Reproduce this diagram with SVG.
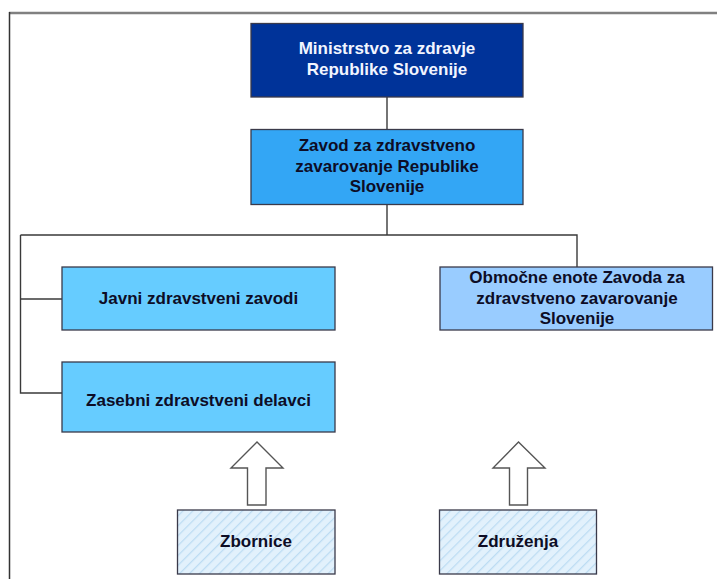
<svg xmlns="http://www.w3.org/2000/svg" width="717" height="579" viewBox="0 0 717 579">
<defs>
<pattern id="hatch" width="7" height="7" patternUnits="userSpaceOnUse" patternTransform="rotate(45)">
<rect width="7" height="7" fill="#E2F1FC"/>
<line x1="0" y1="0" x2="0" y2="7" stroke="#BCDCF3" stroke-width="2.5"/>
</pattern>
</defs>
<style>
text{font-family:"Liberation Sans",Arial,sans-serif;font-weight:bold;font-size:17px;text-anchor:middle;fill:#0d0d26}
.box{stroke:#3a3a4a;stroke-width:1.3}
.conn{fill:none;stroke:#3a3a3a;stroke-width:1.4}
.arrow{fill:#fff;stroke:#555;stroke-width:1.4}
</style>
<rect width="717" height="579" fill="#fff"/>
<g id="frame">
<line x1="9" y1="13" x2="717" y2="13" stroke="#808080" stroke-width="2.5"/>
<line x1="9.5" y1="12" x2="9.5" y2="579" stroke="#333" stroke-width="1.5"/>
</g>
<g id="connectors">
<path class="conn" d="M387 97V129"/>
<path class="conn" d="M387 204V235"/>
<path class="conn" d="M20.5 235H577V267"/>
<path class="conn" d="M20.5 235V393H62"/>
<path class="conn" d="M20.5 299H62"/>
<path class="arrow" d="M247.5 505V468H231L257 442L283 468H266V505Z"/>
<path class="arrow" d="M509.5 505V468H493L518.5 442L545 468H527.5V505Z"/>
</g>
<g id="ministrstvo">
<rect class="box" x="251" y="23.5" width="272" height="73.5" fill="#003399"/>
<text x="387" y="54" style="fill:#F2F5FF">Ministrstvo za zdravje</text>
<text x="387" y="75" style="fill:#F2F5FF">Republike Slovenije</text>
</g>
<g id="zavod">
<rect class="box" x="251" y="129.5" width="272" height="75" fill="#33A6F5"/>
<text x="387" y="151">Zavod za zdravstveno</text>
<text x="387" y="171.5">zavarovanje Republike</text>
<text x="387" y="192">Slovenije</text>
</g>
<g id="javni">
<rect class="box" x="62" y="267" width="273" height="63" fill="#66CCFF"/>
<text x="198.5" y="303.5">Javni zdravstveni zavodi</text>
</g>
<g id="zasebni">
<rect class="box" x="62" y="362" width="273" height="70" fill="#66CCFF"/>
<text x="198.5" y="406">Zasebni zdravstveni delavci</text>
</g>
<g id="obmocne">
<rect class="box" x="440" y="267" width="272.5" height="63" fill="#99CCFF"/>
<text x="577" y="282.5">Območne enote Zavoda za</text>
<text x="577" y="303.5">zdravstveno zavarovanje</text>
<text x="577" y="323.5">Slovenije</text>
</g>
<g id="zbornice">
<rect class="box" x="177.5" y="510" width="157.5" height="64" fill="url(#hatch)"/>
<text x="256" y="547">Zbornice</text>
</g>
<g id="zdruzenja">
<rect class="box" x="439.5" y="510" width="157" height="64" fill="url(#hatch)"/>
<text x="518" y="547">Združenja</text>
</g>
</svg>
